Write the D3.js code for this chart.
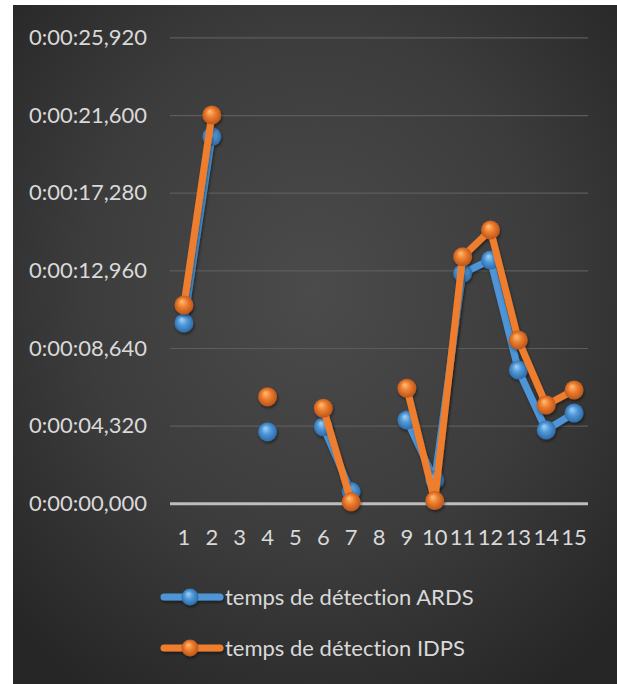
<!DOCTYPE html>
<html><head><meta charset="utf-8">
<script src="https://cdn.jsdelivr.net/npm/d3@7"></script>
<style>html,body{margin:0;padding:0;background:#fff;}svg{display:block;}text{font-variant-ligatures:none;}</style>
</head><body>
<svg id="chart" width="617" height="684"></svg>
<script>
const categories = ["1","2","3","4","5","6","7","8","9","10","11","12","13","14","15"];
// detection times in seconds (null = no value)
const ardsValues = [10.03, 20.40, null, 3.98, null, 4.26, 0.65, null, 4.63, 1.30, 12.80, 13.54, 7.42, 4.08, 5.02];
const idpsValues = [11.03, 21.60, null, 5.93, null, 5.29, 0.08, null, 6.40, 0.15, 13.72, 15.21, 9.08, 5.47, 6.30];
const seriesNames = ["temps de détection ARDS", "temps de détection IDPS"];
const yTickValues = [0, 4.32, 8.64, 12.96, 17.28, 21.6, 25.92];
const yTickLabels = ["0:00:00,000","0:00:04,320","0:00:08,640","0:00:12,960","0:00:17,280","0:00:21,600","0:00:25,920"];

const svg = d3.select("#chart");
const W = 617, H = 684;
const font = "Lato, 'Open Sans', sans-serif";
const textColor = "#d9d9d9";

const defs = svg.append("defs");
const bg = defs.append("radialGradient").attr("id","bg")
  .attr("cx","50%").attr("cy","42%").attr("r","70%");
bg.append("stop").attr("offset","0%").attr("stop-color","#4b4b4b");
bg.append("stop").attr("offset","55%").attr("stop-color","#3c3c3c");
bg.append("stop").attr("offset","100%").attr("stop-color","#262626");

function ballGrad(id, hi, mid, lo){
  const g = defs.append("radialGradient").attr("id",id)
    .attr("cx","50%").attr("cy","50%").attr("r","55%").attr("fx","38%").attr("fy","30%");
  g.append("stop").attr("offset","0%").attr("stop-color",hi);
  g.append("stop").attr("offset","45%").attr("stop-color",mid);
  g.append("stop").attr("offset","100%").attr("stop-color",lo);
}
ballGrad("ballBlue","#a3d3f7","#4f98d8","#2a64a0");
ballGrad("ballOrange","#ffc07a","#ee7d2e","#b2501a");

const sh = defs.append("filter").attr("id","shadow").attr("filterUnits","userSpaceOnUse")
  .attr("x",0).attr("y",0).attr("width",W).attr("height",H);
sh.append("feDropShadow").attr("dx",1).attr("dy",2).attr("stdDeviation",1.5).attr("flood-color","#000").attr("flood-opacity",0.45);

svg.append("rect").attr("x",13).attr("y",5).attr("width",W-13).attr("height",H-5).attr("fill","url(#bg)");

const x = d3.scaleBand().domain(categories).range([170, 588]);
const y = d3.scaleLinear().domain([0, 25.92]).range([503.3, 37.4]);
const cx = c => x(c) + x.bandwidth()/2;

// grid + y labels
const yAxis = d3.axisLeft(y).tickValues(yTickValues)
  .tickFormat((d,i) => yTickLabels[i]).tickSize(-(588-170)).tickPadding(23);
const gy = svg.append("g").attr("transform","translate(170,0)").call(yAxis);
gy.select(".domain").remove();
gy.selectAll(".tick line").attr("stroke","#5c5c5c").attr("stroke-width",1.2);
gy.selectAll(".tick text").attr("fill",textColor).attr("font-family",font).attr("font-size",22);
gy.selectAll(".tick").filter(d => d === 0).select("line").attr("stroke","#bdbdbd").attr("stroke-width",3);

// x labels
const xAxis = d3.axisBottom(x).tickSize(0).tickPadding(26);
const gx = svg.append("g").attr("transform","translate(0,503.3)").call(xAxis);
gx.select(".domain").remove();
gx.selectAll(".tick text").attr("fill",textColor).attr("font-family",font).attr("font-size",22);

const series = [
  {name: seriesNames[0], values: ardsValues, line:"#4e95d6", ball:"url(#ballBlue)"},
  {name: seriesNames[1], values: idpsValues, line:"#ee7d2e", ball:"url(#ballOrange)"}
];
const lineGen = d3.line().defined(d => d.v !== null).x(d => cx(d.c)).y(d => y(d.v));

series.forEach(s => {
  const pts = categories.map((c,i) => ({c, v: s.values[i]}));
  const g = svg.append("g").attr("filter","url(#shadow)");
  g.append("path").datum(pts).attr("d", lineGen).attr("fill","none")
    .attr("stroke", s.line).attr("stroke-width",7).attr("stroke-linejoin","round");
  g.selectAll("circle").data(pts.filter(d => d.v !== null)).join("circle")
    .attr("cx", d => cx(d.c)).attr("cy", d => y(d.v)).attr("r", 9.5).attr("fill", s.ball);
});

// legend
const legY = [597, 648];
series.forEach((s,i) => {
  const g = svg.append("g");
  const m = g.append("g").attr("filter","url(#shadow)");
  m.append("line").attr("x1",164).attr("x2",220).attr("y1",legY[i]).attr("y2",legY[i])
    .attr("stroke",s.line).attr("stroke-width",7).attr("stroke-linecap","round");
  m.append("circle").attr("cx",190).attr("cy",legY[i]).attr("r",8.5).attr("fill",s.ball);
  g.append("text").attr("x",225).attr("y",legY[i]).attr("dy","0.35em")
    .attr("fill",textColor).attr("font-family",font).attr("font-size",22).text(s.name);
});
</script>
</body></html>
